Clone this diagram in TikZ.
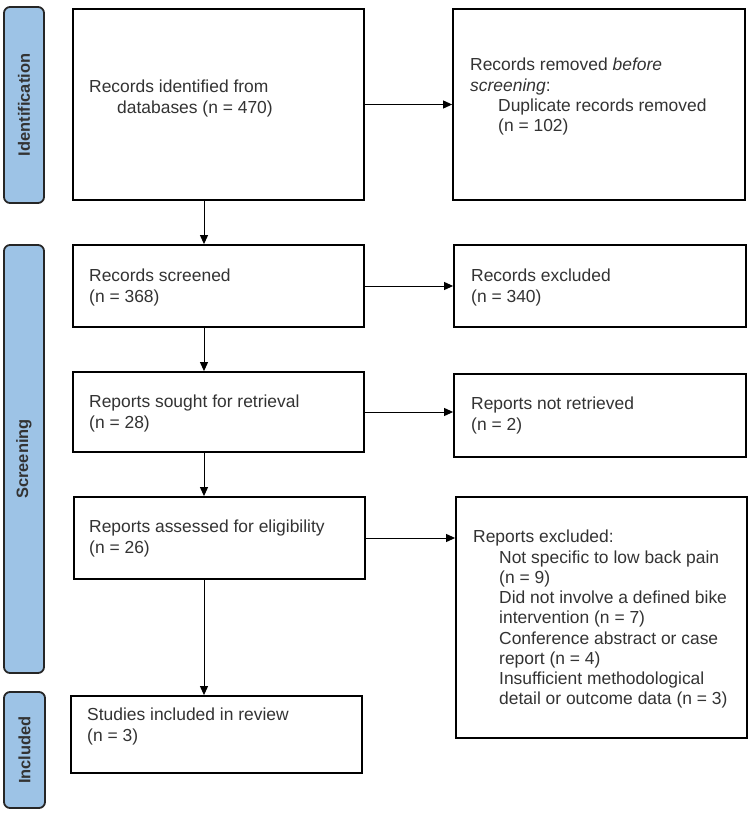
\documentclass[tikz,border=0pt]{standalone}
\usepackage{fontspec}
\setmainfont{Liberation Sans}
\usetikzlibrary{arrows.meta}
\definecolor{phasefill}{HTML}{9DC3E6}
\definecolor{txtcol}{HTML}{333333}
\tikzset{
  box/.style={draw=black, line width=1.8bp, inner sep=0pt, fill=white},
  phase/.style={draw=black!85, line width=1.8bp, rounded corners=6bp, fill=phasefill, inner sep=0pt},
  phaselabel/.style={rotate=90, font=\fontsize{16.5}{19}\selectfont\bfseries, text=txtcol},
  txt/.style={anchor=north west, inner sep=0pt, align=left, text=txtcol, font=\fontsize{17.5}{20.3}\selectfont},
  arr/.style={line width=1bp, -{Triangle[length=9bp,width=8bp]}}
}
\newcommand{\ind}{\hspace*{28bp}}
\begin{document}
\begin{tikzpicture}[x=1bp,y=-1bp]
\useasboundingbox (0,0) rectangle (750,819);
% phase bars
\node[phase, minimum width=40bp, minimum height=196bp] (pid) at (24,105) {};
\node[phaselabel] (pidl) at (pid.center) {Identification};
\node[phase, minimum width=40bp, minimum height=428bp] (psc) at (24,459) {};
\node[phaselabel] (pscl) at (psc.center) {Screening};
\node[phase, minimum width=41bp, minimum height=116bp] (pin) at (24.5,750) {};
\node[phaselabel] (pinl) at (pin.center) {Included};
% boxes
\node[box, minimum width=291bp, minimum height=191bp] (b1) at (218.5,104.5) {};
\node[box, minimum width=292bp, minimum height=191bp] (b2) at (599,104.5) {};
\node[box, minimum width=291bp, minimum height=82bp] (b3) at (218.5,286) {};
\node[box, minimum width=292bp, minimum height=82bp] (b4) at (600,286) {};
\node[box, minimum width=291bp, minimum height=80bp] (b5) at (218.5,412) {};
\node[box, minimum width=292bp, minimum height=83bp] (b6) at (600,415.5) {};
\node[box, minimum width=291bp, minimum height=82bp] (b7) at (219.5,538) {};
\node[box, minimum width=291bp, minimum height=241bp] (b8) at (601.5,617.5) {};
\node[box, minimum width=291bp, minimum height=77bp] (b9) at (216.5,734.5) {};
% texts
\node[txt] (t1) at (89,78.6) {\strut Records identified from\\\ind databases (n = 470)};
\node[txt] (t2) at (470,56.6) {\strut Records removed \textit{before}\\\textit{screening}:\\\ind Duplicate records removed\\\ind (n = 102)};
\node[txt] (t3) at (89,267.6) {\strut Records screened\\(n = 368)};
\node[txt] (t4) at (471,267.6) {\strut Records excluded\\(n = 340)};
\node[txt] (t5) at (89,393.6) {\strut Reports sought for retrieval\\(n = 28)};
\node[txt] (t6) at (471,395.6) {\strut Reports not retrieved\\(n = 2)};
\node[txt] (t7) at (89,518.6) {\strut Reports assessed for eligibility\\(n = 26)};
\node[txt] (t8) at (473,528.6) {\strut Reports excluded:\\
\hspace*{26bp}Not specific to low back pain\\
\hspace*{26bp}(n = 9)\\
\hspace*{26bp}Did not involve a defined bike\\
\hspace*{26bp}intervention (n = 7)\\
\hspace*{26bp}Conference abstract or case\\
\hspace*{26bp}report (n = 4)\\
\hspace*{26bp}Insufficient methodological\\
\hspace*{26bp}detail or outcome data (n = 3)};
\node[txt] (t9) at (87,706.6) {\strut Studies included in review\\(n = 3)};
% connectors
\coordinate (vx) at (204,0);
\draw[arr] (b1.south -| vx) -- (b3.north -| vx);
\draw[arr] (b3.south -| vx) -- (b5.north -| vx);
\draw[arr] (b5.south -| vx) -- (b7.north -| vx);
\draw[arr] (b7.south -| vx) -- (b9.north -| vx);
\draw[arr] (b1.east) -- (b1.east -| b2.west);
\draw[arr] (b3.east) -- (b3.east -| b4.west);
\draw[arr] (b5.east) -- (b5.east -| b6.west);
\draw[arr] (b7.east) -- (b7.east -| b8.west);
\end{tikzpicture}
\end{document}
